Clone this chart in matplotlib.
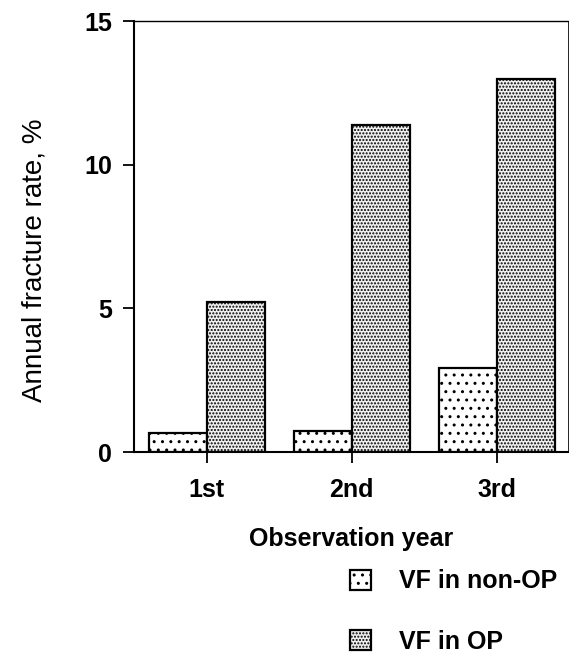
import matplotlib.pyplot as plt
import numpy as np

plt.rcParams['font.family'] = ['Liberation Sans', 'DejaVu Sans']
plt.rcParams['hatch.linewidth'] = 1.0

# Data
years = ['1st', '2nd', '3rd']
vf_non_op = [0.65, 0.72, 2.92]
vf_op = [5.22, 11.4, 13.0]
series_labels = ['VF in non-OP', 'VF in OP']
y_ticks = [0, 5, 10, 15]

x = np.arange(len(years))
width = 0.4

fig = plt.figure(figsize=(5.69, 6.59), dpi=100)
ax = fig.add_axes([0.2355, 0.314, 0.763, 0.654])

b1 = ax.bar(x - width / 2, vf_non_op, width, color='white', edgecolor='black',
            linewidth=1.6, hatch='..', label=series_labels[0])
b2 = ax.bar(x + width / 2, vf_op, width, color='#f0f0f0', edgecolor='black',
            linewidth=1.6, hatch='.....', label=series_labels[1])

ax.set_xlim(-0.5, 2.49)
ax.set_ylim(0, 15)
ax.set_xticks(x)
ax.set_xticklabels(years, fontsize=18, fontweight='bold')
ax.set_yticks(y_ticks)
ax.set_yticklabels([str(t) for t in y_ticks], fontsize=18, fontweight='bold')
ax.tick_params(axis='both', direction='out', length=8, width=1.3, pad=8)
ax.tick_params(axis='x', pad=11)
for side in ['left', 'bottom']:
    ax.spines[side].set_linewidth(1.5)
ax.spines['top'].set_linewidth(1.0)
ax.spines['right'].set_linewidth(0.6)

ax.set_ylabel('Annual fracture rate, %', fontsize=20, labelpad=26, y=0.445)
ax.set_xlabel('Observation year', fontsize=18, fontweight='bold', labelpad=18)

fig.legend(handles=[b1, b2], labels=series_labels, loc='upper left',
           bbox_to_anchor=(0.615, 0.136), frameon=False, borderpad=0,
           borderaxespad=0, prop={'size': 18, 'weight': 'bold'},
           handlelength=0.85, handleheight=0.85, labelspacing=1.45,
           handletextpad=1.1)

plt.savefig('out.png', dpi=100)
